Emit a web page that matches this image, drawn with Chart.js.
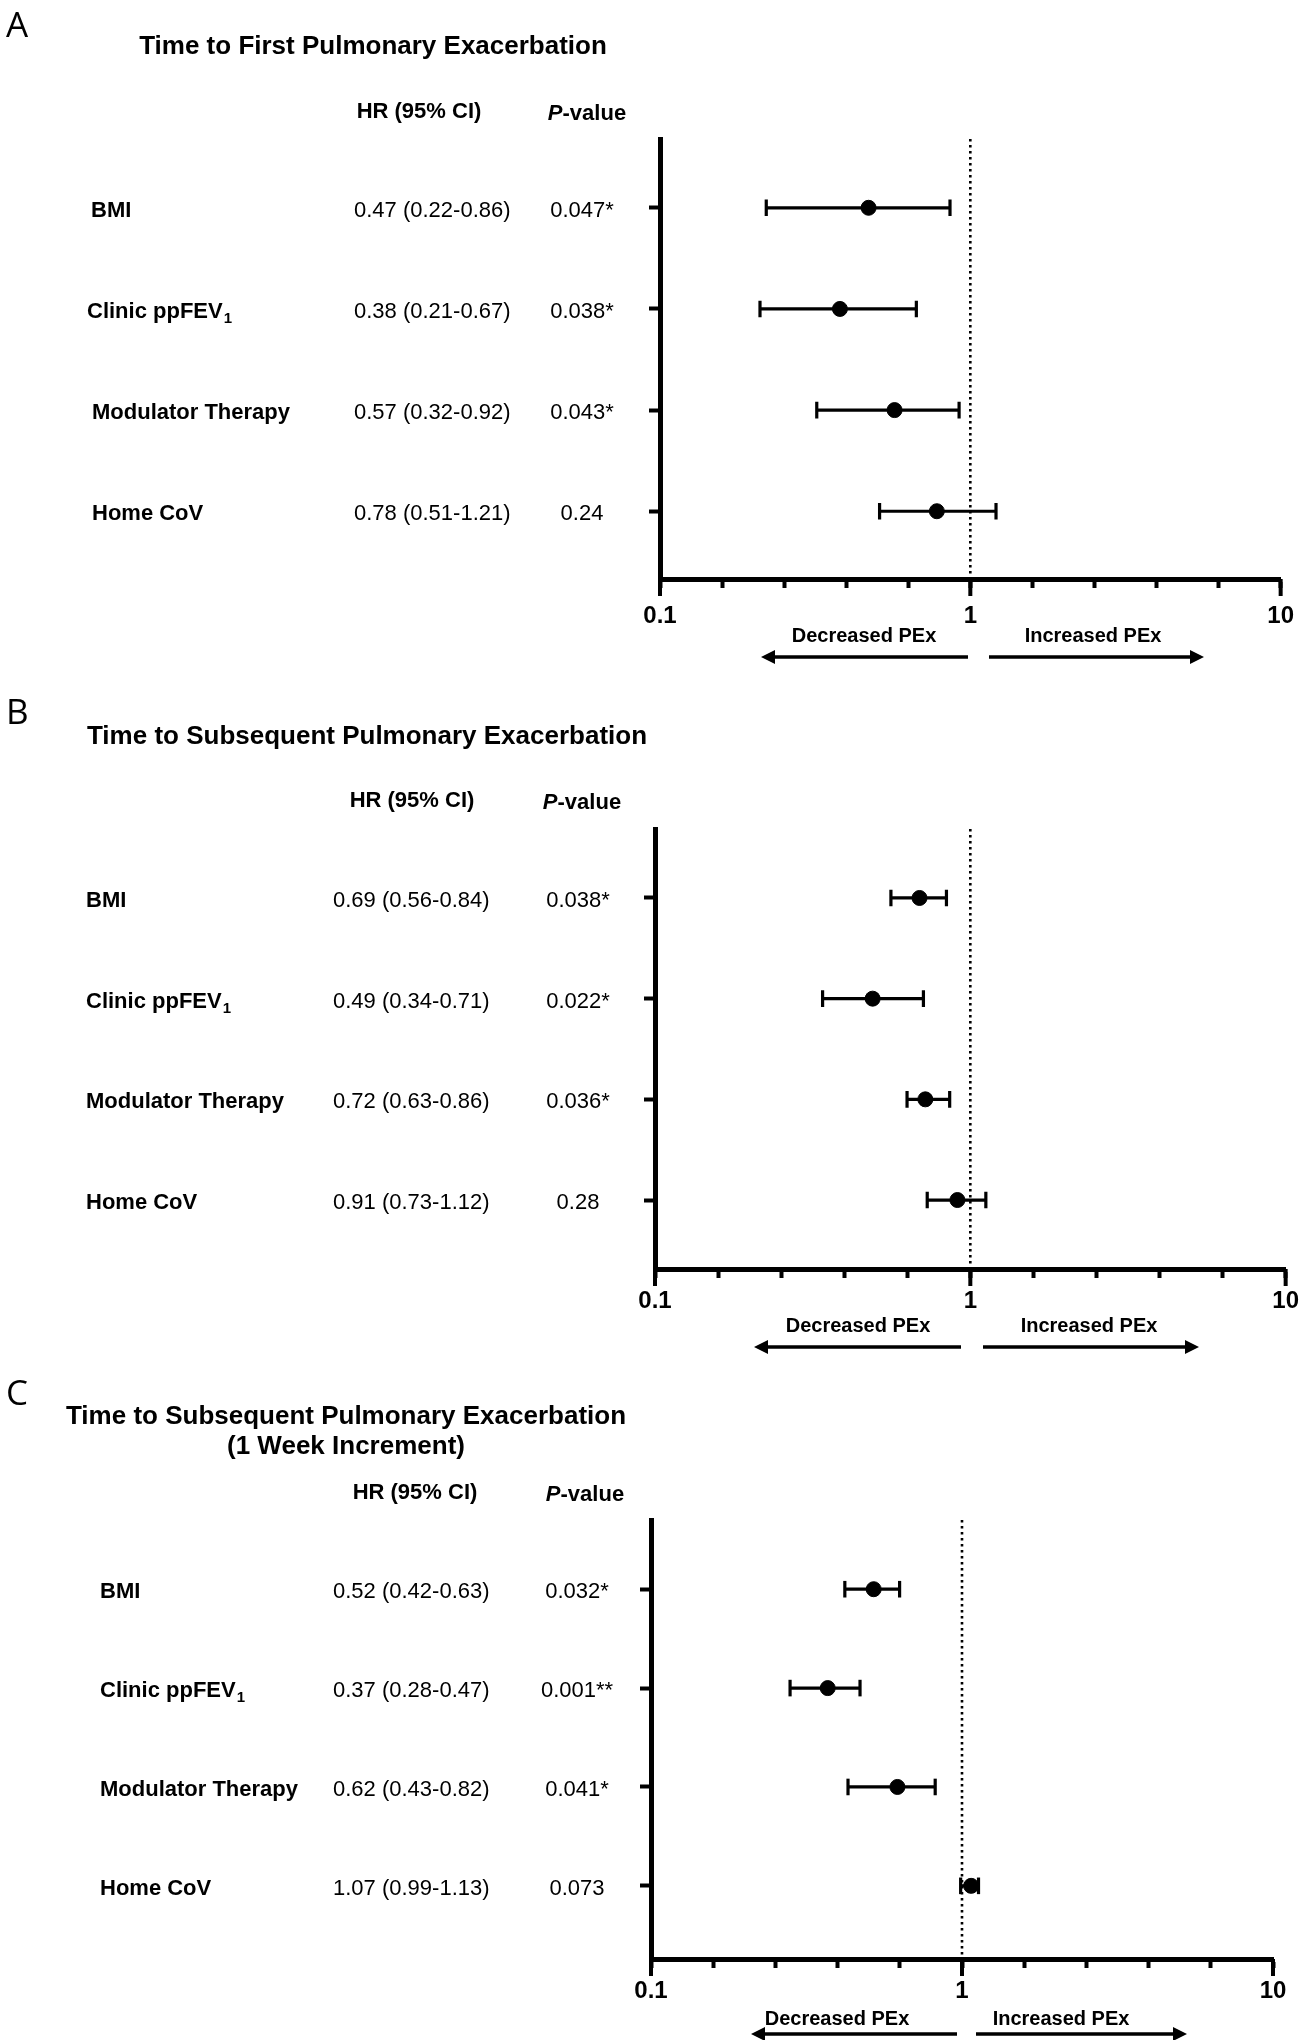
<!DOCTYPE html>
<html><head><meta charset="utf-8">
<script src="https://cdn.jsdelivr.net/npm/chart.js@4.4.0/dist/chart.umd.min.js"></script>
<style>
html,body{margin:0;padding:0;background:#fff;}
#wrap{position:relative;width:1308px;height:2040px;overflow:hidden;background:#fff;}
.panel{position:absolute;left:0;width:1308px;}
canvas{display:block;}
</style></head><body>
<div id="wrap">
<div class="panel" style="top:0;height:690px"><canvas id="cA" width="1308" height="690"></canvas></div>
<div class="panel" style="top:690px;height:680px"><canvas id="cB" width="1308" height="680"></canvas></div>
<div class="panel" style="top:1370px;height:670px"><canvas id="cC" width="1308" height="670"></canvas></div>
</div>
<script>
// ---------------- DATA ----------------
const categories = ['BMI', 'Clinic ppFEV', 'Modulator Therapy', 'Home CoV'];
const subscripts = ['', '1', '', ''];

const titleA = ['Time to First Pulmonary Exacerbation'];
const hrA = [0.47, 0.38, 0.57, 0.78];
const loA = [0.22, 0.21, 0.32, 0.51];
const hiA = [0.86, 0.67, 0.92, 1.21];
const pA  = ['0.047*', '0.038*', '0.043*', '0.24'];

const titleB = ['Time to Subsequent Pulmonary Exacerbation'];
const hrB = [0.69, 0.49, 0.72, 0.91];
const loB = [0.56, 0.34, 0.63, 0.73];
const hiB = [0.84, 0.71, 0.86, 1.12];
const pB  = ['0.038*', '0.022*', '0.036*', '0.28'];

const titleC = ['Time to Subsequent Pulmonary Exacerbation', '(1 Week Increment)'];
const hrC = [0.52, 0.37, 0.62, 1.07];
const loC = [0.42, 0.28, 0.43, 0.99];
const hiC = [0.63, 0.47, 0.82, 1.13];
const pC  = ['0.032*', '0.001**', '0.041*', '0.073'];

const xTickValues = [0.1, 0.1585, 0.2512, 0.3981, 0.631, 1, 1.585, 2.512, 3.981, 6.31, 10];
const majorTicks  = [0.1, 1, 10];
const majorLabels = ['0.1', '1', '10'];
const refValue = 1;
const hrHeader = 'HR (95% CI)';
const leftNote = 'Decreased PEx';
const rightNote = 'Increased PEx';

// ---------------- LAYOUT ----------------
const FONT = '"Liberation Sans", Arial, Helvetica, sans-serif';

const layoutA = {
  letter: 'A', letterX: 6, letterY: 27, height: 690,
  left: 660, right: 1291, areaTop: 139, axisY: 579, yMin: -0.68, yMax: 3.67, tickPad: 14,
  titleX: 373, titleY: 47,
  hrHeadX: 419, pHeadX: 587, headY: 112,
  labelX: [91, 87, 92, 92], hrX: 354, pX: 582,
  decX: 864, incX: 1093, noteY: 636, arrowY: 657, leftArrow: [968, 761], rightArrow: [989, 1204]
};
const layoutB = {
  letter: 'B', letterX: 6, letterY: 24, height: 680,
  left: 655, right: 1286, areaTop: 139, axisY: 579, yMin: -0.685, yMax: 3.685, tickPad: 9,
  titleX: 367, titleY: 47,
  hrHeadX: 412, pHeadX: 582, headY: 111,
  labelX: [86, 86, 86, 86], hrX: 333, pX: 578,
  decX: 858, incX: 1089, noteY: 636, arrowY: 657, leftArrow: [961, 754], rightArrow: [983, 1199]
};
const layoutC = {
  letter: 'C', letterX: 6, letterY: 25, height: 670,
  left: 651, right: 1273, areaTop: 150, axisY: 589, yMin: -0.70, yMax: 3.74, tickPad: 9,
  titleX: 346, titleY: 47,
  hrHeadX: 415, pHeadX: 585, headY: 123,
  labelX: [100, 100, 100, 100], hrX: 333, pX: 577,
  decX: 837, incX: 1061, noteY: 649, arrowY: 664, leftArrow: [957, 751], rightArrow: [976, 1187]
};

function drawArrow(ctx, x0, x1, y) {
  const dir = Math.sign(x1 - x0);
  const headL = 14, headW = 7;
  ctx.beginPath();
  ctx.moveTo(x0, y);
  ctx.lineTo(x1 - dir * headL, y);
  ctx.lineWidth = 3.5;
  ctx.strokeStyle = '#000';
  ctx.stroke();
  ctx.beginPath();
  ctx.moveTo(x1, y);
  ctx.lineTo(x1 - dir * headL, y - headW);
  ctx.lineTo(x1 - dir * headL, y + headW);
  ctx.closePath();
  ctx.fillStyle = '#000';
  ctx.fill();
}

function panelPlugin(L, title, hr, lo, hi, p) {
  return {
    id: 'panelText',
    afterDraw(chart) {
      const ctx = chart.ctx;
      const ys = chart.scales.y, xs = chart.scales.x;
      ctx.save();
      ctx.fillStyle = '#000';
      ctx.strokeStyle = '#000';
      ctx.textBaseline = 'middle';
      // panel letter
      ctx.textAlign = 'left';
      ctx.font = '400 35px "Open Sans", sans-serif';
      ctx.fillText(L.letter, L.letterX, L.letterY);
      // title
      ctx.textAlign = 'center';
      ctx.font = 'bold 26px ' + FONT;
      title.forEach((t, i) => ctx.fillText(t, L.titleX, L.titleY + i * 30));
      // headers
      ctx.font = 'bold 22px ' + FONT;
      ctx.fillText(hrHeader, L.hrHeadX, L.headY);
      ctx.font = 'italic bold 22px ' + FONT;
      const wP = ctx.measureText('P').width;
      ctx.font = 'bold 22px ' + FONT;
      const wV = ctx.measureText('-value').width;
      const sx = L.pHeadX - (wP + wV) / 2;
      ctx.textAlign = 'left';
      ctx.font = 'italic bold 22px ' + FONT;
      ctx.fillText('P', sx, L.headY + 2);
      ctx.font = 'bold 22px ' + FONT;
      ctx.fillText('-value', sx + wP, L.headY + 2);
      // rows
      categories.forEach((c, i) => {
        const py = ys.getPixelForValue(i) + 3;
        ctx.textAlign = 'left';
        ctx.font = 'bold 22px ' + FONT;
        ctx.fillText(c, L.labelX[i], py);
        if (subscripts[i]) {
          const w = ctx.measureText(c).width;
          ctx.font = 'bold 15px ' + FONT;
          ctx.fillText(subscripts[i], L.labelX[i] + w + 1, py + 7);
        }
        ctx.font = '22px ' + FONT;
        ctx.fillText(hr[i].toFixed(2) + ' (' + lo[i].toFixed(2) + '-' + hi[i].toFixed(2) + ')', L.hrX, py);
        ctx.textAlign = 'center';
        ctx.fillText(p[i], L.pX, py);
      });
      // longer major ticks on the x axis
      ctx.lineWidth = 4;
      majorTicks.forEach(v => {
        const px = xs.getPixelForValue(v);
        ctx.beginPath();
        ctx.moveTo(px, chart.chartArea.bottom);
        ctx.lineTo(px, chart.chartArea.bottom + 17);
        ctx.stroke();
      });
      // direction notes and arrows
      ctx.textAlign = 'center';
      ctx.font = 'bold 20px ' + FONT;
      ctx.fillText(leftNote, L.decX, L.noteY);
      ctx.fillText(rightNote, L.incX, L.noteY);
      drawArrow(ctx, L.leftArrow[0], L.leftArrow[1], L.arrowY);
      drawArrow(ctx, L.rightArrow[0], L.rightArrow[1], L.arrowY);
      ctx.restore();
    }
  };
}

function makePanel(id, L, title, hr, lo, hi, p) {
  const datasets = [];
  datasets.push({
    type: 'scatter', data: hr.map((v, i) => ({x: v, y: i})),
    pointRadius: 7.5, pointHoverRadius: 7.5, backgroundColor: '#000', borderColor: '#000', order: 0
  });
  categories.forEach((c, i) => {
    datasets.push({
      type: 'line', data: [{x: lo[i], y: i}, {x: hi[i], y: i}],
      borderColor: '#000', borderWidth: 3.2, pointStyle: 'line', pointRadius: 8.3, pointHoverRadius: 8.3,
      pointRotation: 90, pointBorderWidth: 3.2, pointBorderColor: '#000', backgroundColor: '#000',
      fill: false, order: 1
    });
  });
  datasets.push({
    type: 'line', data: [{x: refValue, y: L.yMin}, {x: refValue, y: L.yMax}],
    borderColor: '#000', borderWidth: 2.6, borderDash: [2.6, 3.4], pointRadius: 0, fill: false, order: 2
  });
  new Chart(document.getElementById(id), {
    type: 'scatter',
    data: { datasets },
    options: {
      responsive: false, animation: false, events: [],
      layout: { padding: { left: 0, right: 1308 - L.right, top: L.areaTop, bottom: 0 } },
      plugins: { legend: { display: false }, tooltip: { enabled: false } },
      scales: {
        x: {
          type: 'logarithmic', position: 'bottom', min: 0.1, max: 10,
          afterBuildTicks: s => { s.ticks = xTickValues.map(v => ({ value: v, major: majorTicks.includes(v) })); },
          afterFit: s => { s.height = L.height - L.axisY; },
          grid: { drawOnChartArea: false, drawTicks: true, tickLength: 9, tickWidth: 4, tickColor: '#000' },
          border: { display: true, color: '#000', width: 5 },
          ticks: {
            autoSkip: false, maxRotation: 0, minRotation: 0, padding: L.tickPad, color: '#000',
            font: { family: FONT, size: 24, weight: 'bold' },
            callback: (val, idx) => { const k = majorTicks.indexOf(xTickValues[idx]); return k >= 0 ? majorLabels[k] : ''; }
          }
        },
        y: {
          type: 'linear', position: 'left', reverse: true, min: L.yMin, max: L.yMax,
          afterBuildTicks: s => { s.ticks = categories.map((c, i) => ({ value: i })); },
          afterFit: s => { s.width = L.left; },
          grid: { drawOnChartArea: false, drawTicks: true, tickLength: 11, tickWidth: 4, tickColor: '#000' },
          border: { display: true, color: '#000', width: 5 },
          ticks: { callback: () => '', padding: 0 }
        }
      }
    },
    plugins: [panelPlugin(L, title, hr, lo, hi, p)]
  });
}

makePanel('cA', layoutA, titleA, hrA, loA, hiA, pA);
makePanel('cB', layoutB, titleB, hrB, loB, hiB, pB);
makePanel('cC', layoutC, titleC, hrC, loC, hiC, pC);
</script>
</body></html>
